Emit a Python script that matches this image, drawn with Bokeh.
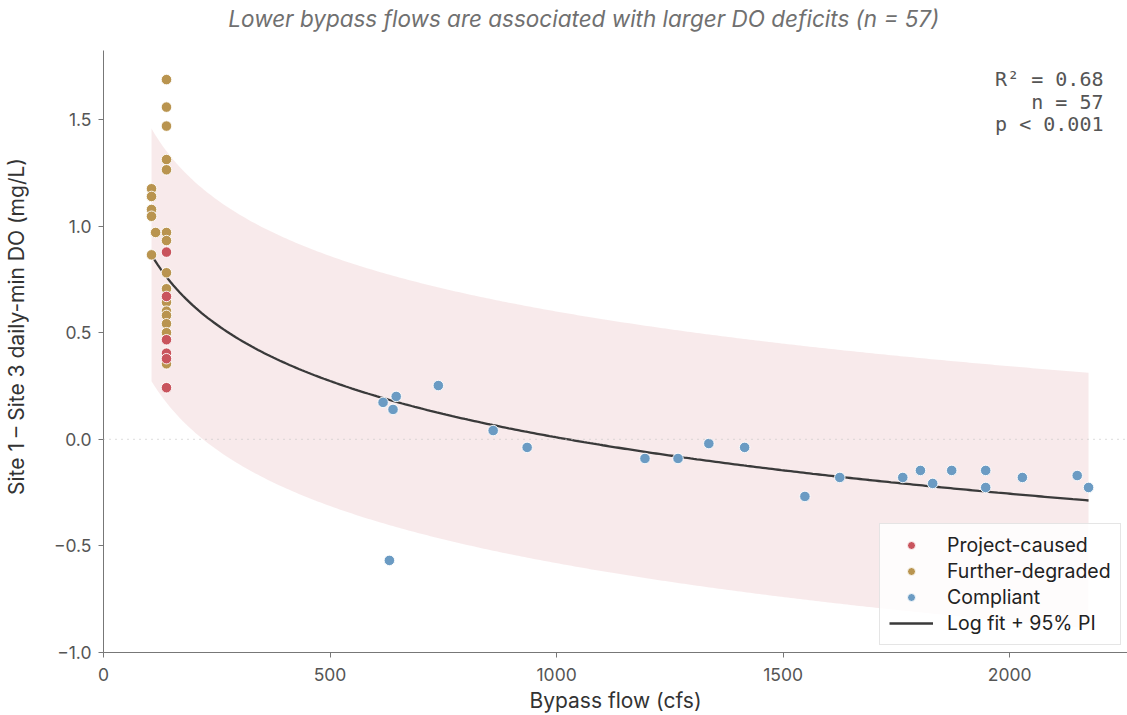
import numpy as np
from bokeh.plotting import figure
from bokeh.models import (Span, Label, Legend, LegendItem, Range1d, FixedTicker,
                          CustomJSTickFormatter)
from bokeh.embed import file_html
from bokeh.resources import INLINE

# ---------------- data ----------------
project_flow = [139, 139, 139, 139, 139, 139]
project_do = [0.878, 0.670, 0.467, 0.404, 0.378, 0.242]

degraded_flow = [139, 139, 139, 139, 139, 139, 139, 139, 139, 139, 139, 139, 139, 139, 139,
                 106, 106, 106, 106, 106, 115]
degraded_do = [1.687, 1.558, 1.469, 1.312, 1.264, 0.970, 0.932, 0.781, 0.706, 0.643,
               0.601, 0.581, 0.542, 0.500, 0.354,
               1.175, 1.139, 1.078, 1.046, 0.865, 0.970]

compliant_flow = [617, 639, 646, 739, 860, 935, 631, 1195, 1268, 1336, 1415, 1548, 1625,
                  1764, 1803, 1830, 1872, 1947, 1947, 2028, 2149, 2174]
compliant_do = [0.173, 0.140, 0.201, 0.252, 0.041, -0.038, -0.568, -0.090, -0.090, -0.020,
                -0.038, -0.268, -0.179, -0.179, -0.146, -0.207, -0.146, -0.146, -0.226,
                -0.179, -0.170, -0.226]

# log fit  y = a + b*ln(x)  and 95% prediction half-width (t*s)
fit_intercept = 2.643
fit_slope = -0.3813
pi_halfwidth = 0.58

x_ticks = [0, 500, 1000, 1500, 2000]
y_ticks = [-1.0, -0.5, 0.0, 0.5, 1.0, 1.5]

title_text = "Lower bypass flows are associated with larger DO deficits (n = 57)"
stats_lines = ["R\u00b2 = 0.68", "n = 57", "p < 0.001"]

RED = "#c9545d"
GOLD = "#b9944f"
BLUE = "#6b9bc3"

# ---------------- model curve ----------------
all_flow = np.array(project_flow + degraded_flow + compliant_flow, dtype=float)
lx = np.log(all_flow)
m = lx.mean()
sxx = ((lx - m) ** 2).sum()
n = len(all_flow)
xs = np.linspace(all_flow.min(), all_flow.max(), 300)
fit = fit_intercept + fit_slope * np.log(xs)
half = pi_halfwidth * np.sqrt(1 + 1 / n + (np.log(xs) - m) ** 2 / sxx)

# ---------------- figure ----------------
p = figure(width=1127, height=715, output_backend="svg", toolbar_location=None,
           x_range=Range1d(0, 2260), y_range=Range1d(-1.0, 2.058),
           min_border_left=102, min_border_right=0, min_border_top=0, min_border_bottom=63)
p.outline_line_color = None
p.grid.visible = False
p.background_fill_color = "white"

p.add_layout(Span(location=0, dimension="width", line_color="#c8c8c8",
                  line_dash="1 5", line_width=1.2))

p.varea(x=xs, y1=fit - half, y2=fit + half, fill_color=RED, fill_alpha=0.12)
r_fit = p.line(xs, fit, line_color="#3a3a3a", line_width=2.3)

r_deg = p.scatter(degraded_flow, degraded_do, size=10.5, fill_color=GOLD,
                  line_color="white", line_width=0.9)
r_proj = p.scatter(project_flow, project_do, size=10.5, fill_color=RED,
                   line_color="white", line_width=0.9)
r_comp = p.scatter(compliant_flow, compliant_do, size=10.5, fill_color=BLUE,
                   line_color="white", line_width=0.9)

# axes
for ax in (p.xaxis, p.yaxis):
    ax.axis_line_color = "#777777"
    ax.major_tick_line_color = "#777777"
    ax.minor_tick_line_color = None
    ax.major_tick_in = 0
    ax.major_tick_out = 5
    ax.major_label_text_font = "Inter"
    ax.major_label_text_font_size = "17.5px"
    ax.major_label_text_color = "#555555"
    ax.axis_label_text_font = "Inter"
    ax.axis_label_text_font_size = "21px"
    ax.axis_label_text_font_style = "normal"
    ax.axis_label_text_color = "#333333"

p.xaxis.major_label_standoff = 10
p.yaxis.major_label_standoff = 7
p.yaxis.bounds = (-1.0, 1.825)
p.xaxis.ticker = FixedTicker(ticks=x_ticks)
p.yaxis.ticker = FixedTicker(ticks=y_ticks)
p.yaxis.formatter = CustomJSTickFormatter(code="return tick.toFixed(1).replace('-', '\\u2212');")
p.xaxis.axis_label = "Bypass flow (cfs)"
p.yaxis.axis_label = "Site 1 \u2013 Site 3 daily-min DO (mg/L)"
p.xaxis.axis_label_standoff = 4
p.yaxis.axis_label_standoff = 22

# title
p.add_layout(Label(x=1060, y=1.974, text=title_text, text_align="center",
                   text_baseline="middle", text_font="Inter", text_font_style="italic",
                   text_font_size="22.5px", text_color="#707070"))

# stats
for txt, yv in zip(stats_lines, [1.688, 1.581, 1.477]):
    p.add_layout(Label(x=2207, y=yv, text=txt, text_align="right", text_baseline="middle",
                       text_font="DejaVu Sans Mono", text_font_size="20px",
                       text_color="#555555"))

legend = Legend(items=[
    LegendItem(label="Project-caused", renderers=[r_proj]),
    LegendItem(label="Further-degraded", renderers=[r_deg]),
    LegendItem(label="Compliant", renderers=[r_comp]),
    LegendItem(label="Log fit + 95% PI", renderers=[r_fit]),
], location=(776, 7))
legend.label_text_font = "Inter"
legend.label_text_font_size = "19.5px"
legend.label_text_color = "#222222"
legend.glyph_width = 44
legend.glyph_height = 20
legend.label_height = 20
legend.label_standoff = 14
legend.padding = 9
legend.spacing = 2
legend.margin = 0
legend.border_line_color = "#cccccc"
legend.background_fill_alpha = 0.85
p.add_layout(legend)

open("out.html", "w").write(file_html(p, INLINE))
